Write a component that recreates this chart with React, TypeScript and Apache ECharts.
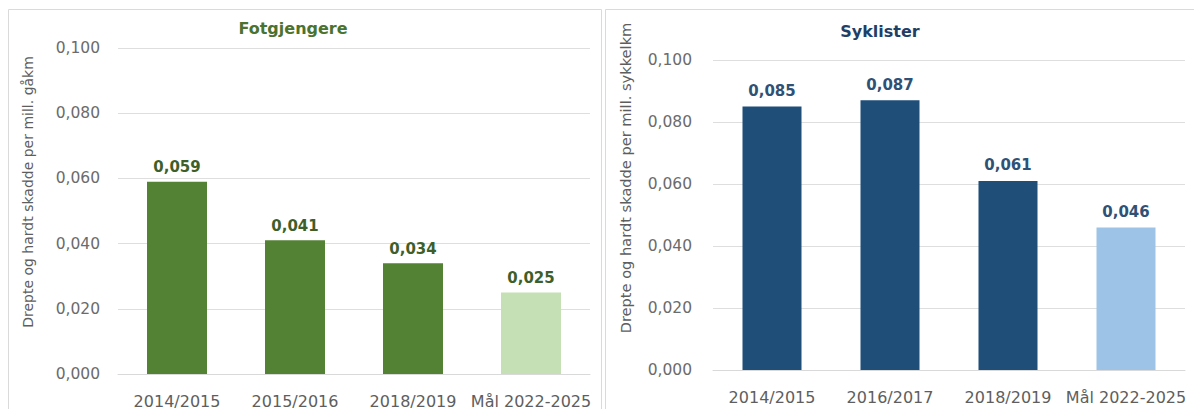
import React, { useEffect, useRef } from "react";
import * as echarts from "echarts";

const categoriesWalk = ["2014/2015", "2015/2016", "2018/2019", "Mål 2022-2025"];
const valuesWalk = [0.059, 0.041, 0.034, 0.025];
const categoriesBike = ["2014/2015", "2016/2017", "2018/2019", "Mål 2022-2025"];
const valuesBike = [0.085, 0.087, 0.061, 0.046];
const titleWalk = "Fotgjengere";
const titleBike = "Syklister";
const yTitleWalk = "Drepte og hardt skadde per mill. gåkm";
const yTitleBike = "Drepte og hardt skadde per mill. sykkelkm";

const FONT = "'DejaVu Sans', sans-serif";
const fmt = (v: number) => v.toFixed(3).replace(".", ",");

export default function App() {
  const ref = useRef<HTMLDivElement>(null);
  useEffect(() => {
    const chart = echarts.init(ref.current!, undefined, { renderer: "svg" });
    const yAxisBase = (margin: number) => ({
      type: "value" as const,
      min: 0,
      max: 0.1,
      interval: 0.02,
      axisLabel: { formatter: (v: number) => fmt(v), color: "#6b6b6b", fontSize: 15.5, fontFamily: FONT, margin },
      splitLine: { lineStyle: { color: "#dedede" } },
      axisLine: { show: false },
      axisTick: { show: false },
    });
    const xAxisBase = (cats: string[], idx: number, margin: number) => ({
      type: "category" as const,
      gridIndex: idx,
      data: cats,
      axisLine: { lineStyle: { color: "#d9d9d9" } },
      axisTick: { show: false },
      axisLabel: { color: "#5e5e5e", fontSize: 16, fontFamily: FONT, margin, interval: 0 },
    });
    chart.setOption({
      animation: false,
      backgroundColor: "#ffffff",
      grid: [
        { left: 118, right: 604, top: 48, bottom: 31 },
        { left: 713, right: 9, top: 60, bottom: 39 },
      ],
      xAxis: [xAxisBase(categoriesWalk, 0, 19), xAxisBase(categoriesBike, 1, 19)],
      yAxis: [
        { ...yAxisBase(18), gridIndex: 0 },
        { ...yAxisBase(21), gridIndex: 1 },
      ],
      series: [
        {
          type: "bar",
          xAxisIndex: 0,
          yAxisIndex: 0,
          barWidth: 60,
          data: valuesWalk.map((v, i) => ({
            value: v,
            itemStyle: { color: i === valuesWalk.length - 1 ? "#c5e0b4" : "#548235" },
          })),
          label: {
            show: true,
            position: "top",
            distance: 7,
            formatter: (p: any) => fmt(p.value),
            color: "#3f5f2a",
            fontWeight: "bold",
            fontSize: 15,
            fontFamily: FONT,
          },
        },
        {
          type: "bar",
          xAxisIndex: 1,
          yAxisIndex: 1,
          barWidth: 59,
          data: valuesBike.map((v, i) => ({
            value: v,
            itemStyle: { color: i === valuesBike.length - 1 ? "#9dc3e6" : "#1f4e79" },
          })),
          label: {
            show: true,
            position: "top",
            distance: 8,
            formatter: (p: any) => fmt(p.value),
            color: "#2f5176",
            fontWeight: "bold",
            fontSize: 15,
            fontFamily: FONT,
          },
        },
      ],
      graphic: [
        { type: "rect", shape: { x: 8.5, y: 9.5, width: 593, height: 410 }, style: { fill: "none", stroke: "#dadada", lineWidth: 1 }, silent: true },
        { type: "rect", shape: { x: 605.5, y: 9.5, width: 600, height: 410 }, style: { fill: "none", stroke: "#dadada", lineWidth: 1 }, silent: true },
        { type: "text", x: 293, y: 28, style: { text: titleWalk, align: "center", verticalAlign: "middle", fill: "#4a7330", fontSize: 16, fontWeight: "bold", fontFamily: FONT } },
        { type: "text", x: 880, y: 31, style: { text: titleBike, align: "center", verticalAlign: "middle", fill: "#1f3f66", fontSize: 16, fontWeight: "bold", fontFamily: FONT } },
        { type: "text", x: 28, y: 192, rotation: Math.PI / 2, style: { text: yTitleWalk, align: "center", verticalAlign: "middle", fill: "#5e5e5e", fontSize: 14, fontFamily: FONT } },
        { type: "text", x: 625, y: 178, rotation: Math.PI / 2, style: { text: yTitleBike, align: "center", verticalAlign: "middle", fill: "#5e5e5e", fontSize: 14.6, fontFamily: FONT } },
      ],
    });
    return () => chart.dispose();
  }, []);
  return <div ref={ref} style={{ position: "fixed", left: 0, top: 0, width: 1194, height: 409 }} />;
}
